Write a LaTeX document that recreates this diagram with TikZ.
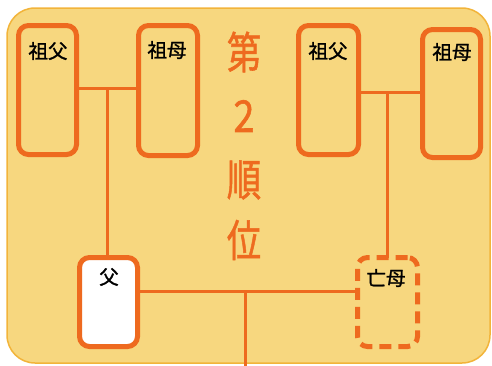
\documentclass[tikz,border=0pt]{standalone}
\usepackage{fontspec}
\newfontfamily\cjk{Noto Sans CJK JP}
\newfontfamily\cjkm[FakeBold=1.3]{Noto Sans CJK JP}
\definecolor{bgfill}{HTML}{F7D77F}
\definecolor{bgline}{HTML}{F2B43A}
\definecolor{orng}{HTML}{EE6A1F}
\tikzset{
  x=1pt,y=-1pt,
  person/.style={draw=orng,line width=5pt,rounded corners=10pt,inner sep=0pt,outer sep=0pt},
  living/.style={person,fill=bgfill},
  fatherbox/.style={person,fill=white},
  deadbox/.style={person,fill=bgfill,dash pattern=on 12pt off 7pt},
  who/.style={font=\cjkm\fontsize{19.5}{19.5}\selectfont,text=black,inner sep=0pt},
  link/.style={draw=orng,line width=3pt},
  rank/.style={font=\cjkm\fontsize{44}{44}\selectfont,text=orng,inner sep=0pt,xscale=0.78}
}
\begin{document}
\begin{tikzpicture}
\useasboundingbox (0,0) rectangle (492,365);
\fill[bgfill,draw=bgline,line width=1.5pt,rounded corners=28pt] (7,8) rectangle (490,363);
% connectors
\coordinate (j1) at (107,88);
\coordinate (j2) at (387,92);
\coordinate (j3) at (245,291);
\coordinate (down) at (245,366);
% boxes
\node[living,minimum width=58pt,minimum height=129pt] (gf1) at (47.5,90) {};
\node[living,minimum width=59pt,minimum height=130pt] (gm1) at (168,90.5) {};
\node[living,minimum width=60pt,minimum height=129pt] (gf2) at (328.5,90) {};
\node[living,minimum width=58pt,minimum height=128pt] (gm2) at (451.5,93.5) {};
\node[fatherbox,minimum width=58pt,minimum height=89pt] (fa) at (108.5,302) {};
\node[deadbox,minimum width=60pt,minimum height=89pt] (mo) at (387.5,302) {};
\draw[link] (j1 -| gf1.east) -- (j1 -| gm1.west);
\draw[link] (j1) -- (j1 |- fa.north);
\draw[link] (j2 -| gf2.east) -- (j2 -| gm2.west);
\draw[link] (j2) -- (j2 |- mo.north);
\draw[link] (j3 -| fa.east) -- (j3 -| mo.west);
\draw[link] (j3) -- (down);
% labels
\node[who] (lgf1) at (48,51) {祖父};
\node[who] (lgm1) at (167,50) {祖母};
\node[who] (lgf2) at (328,51) {祖父};
\node[who] (lgm2) at (452,52) {祖母};
\node[who] (lfa) at (109,277) {父};
\node[who] (lmo) at (386,278) {亡母};
% rank text
\node[rank] (r1) at (244,52) {第};
\node[rank,xscale=1.1] (r2) at (244,116) {2};
\node[rank] (r3) at (244,180) {順};
\node[rank] (r4) at (244,240) {位};
\end{tikzpicture}
\end{document}
